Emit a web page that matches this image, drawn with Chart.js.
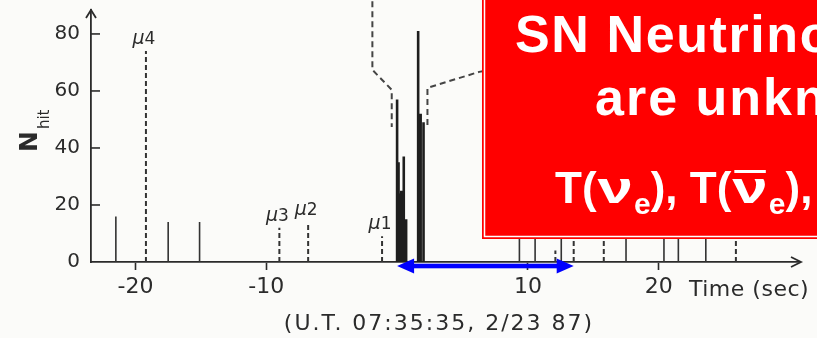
<!DOCTYPE html>
<html>
<head>
<meta charset="utf-8">
<script src="https://cdn.jsdelivr.net/npm/chart.js@4.4.1/dist/chart.umd.min.js"></script>
<style>
  html, body { margin: 0; padding: 0; background: #fbfbf9; }
  #wrap { width: 817px; height: 338px; }
</style>
</head>
<body>
<div id="wrap"><canvas id="myChart" width="817" height="338"></canvas></div>
<script>
// Kamiokande-II hits, time in seconds relative to 07:35:35 UT
const solidTimes = [-21.5, -17.5, -15.1, 9.35, 10.55, 12.55, 17.5, 20.4, 21.5, 23.6];
const solidHits = [16, 14, 14, 21, 37, 24, 15, 17, 16, 18];
const burstTimes = [0.0, 0.11, 0.30, 0.32, 0.51, 0.69, 1.61, 1.80, 2.02];
const burstHits = [57, 35, 24, 25, 37, 15, 81, 52, 49];
const muonTimes = [-19.2, -9.0, -6.8, -1.15, 12.1, 13.5, 15.8, 25.9];
const muonHits = [74, 12, 14, 9, 4, 20, 15, 15];
const muonLabels = ['4', '3', '2', '1', '', '', '', ''];
const xTicks = [-20, -10, 10, 20];
const yTicks = [0, 20, 40, 60, 80];
// dashed outline opening around the burst (time, hits)
const bracketLeftT = [-1.89, -1.89, -0.41, -0.41];
const bracketLeftH = [95, 67.4, 60.4, 47.4];
const bracketRightT = [2.32, 2.32, 6.28, 12];
const bracketRightH = [48.1, 61.1, 66.7, 72];
// blue double arrow along the time axis
const arrowSpan = [0, 13.5];

const INK = '#2b2b2b';

function stems(times, hits) {
  const pts = [];
  times.forEach((t, i) => {
    pts.push({ x: t, y: 0 }, { x: t, y: hits[i] }, { x: t, y: null });
  });
  return pts;
}

function path(ts, hs) {
  return ts.map((t, i) => ({ x: t, y: hs[i] }));
}

const overlay = {
  id: 'overlay',
  afterDraw(chart) {
    const { ctx, chartArea: a, scales: { x, y } } = chart;
    ctx.save();
    ctx.strokeStyle = INK;
    ctx.fillStyle = INK;

    // y ticks point into the plot
    ctx.lineWidth = 1.6;
    yTicks.forEach(v => {
      if (v === 0) return;
      const py = y.getPixelForValue(v);
      ctx.beginPath();
      ctx.moveTo(a.left, py);
      ctx.lineTo(a.left + 9, py);
      ctx.stroke();
    });

    // arrow heads on both axes
    ctx.lineWidth = 1.8;
    ctx.beginPath();
    ctx.moveTo(a.left - 5, a.top + 8);
    ctx.lineTo(a.left, a.top);
    ctx.lineTo(a.left + 5, a.top + 8);
    ctx.moveTo(a.right - 9, a.bottom - 5);
    ctx.lineTo(a.right + 1, a.bottom);
    ctx.lineTo(a.right - 9, a.bottom + 5);
    ctx.stroke();

    // N_hit, rotated
    ctx.save();
    ctx.translate(37, 152);
    ctx.rotate(-Math.PI / 2);
    ctx.textBaseline = 'alphabetic';
    ctx.font = 'bold 25px "DejaVu Sans"';
    ctx.fillText('N', 0, 0);
    const nw = ctx.measureText('N').width;
    ctx.font = '15px "DejaVu Sans"';
    ctx.fillText('hit', nw + 2, 12);
    ctx.restore();

    // axis captions
    ctx.font = '22px "DejaVu Sans"';
    ctx.textBaseline = 'middle';
    ctx.textAlign = 'left';
    ctx.letterSpacing = '0.5px';
    ctx.fillText('Time (sec)', 689, 290);
    ctx.textAlign = 'center';
    ctx.letterSpacing = '2px';
    ctx.fillText('(U.T. 07:35:35, 2/23 87)', 439, 324);
    ctx.letterSpacing = '0px';

    // muon labels above their dashed lines
    ctx.textBaseline = 'alphabetic';
    ctx.textAlign = 'left';
    muonTimes.forEach((t, i) => {
      if (!muonLabels[i]) return;
      const px = x.getPixelForValue(t);
      const py = y.getPixelForValue(muonHits[i]);
      ctx.font = 'italic 19px "DejaVu Sans"';
      const mw = ctx.measureText('μ').width;
      ctx.font = '17px "DejaVu Sans"';
      const dw = ctx.measureText(muonLabels[i]).width;
      const x0 = px - 2 - (mw + dw) / 2;
      ctx.font = 'italic 19px "DejaVu Sans"';
      ctx.fillText('μ', x0, py - 7);
      ctx.font = '17px "DejaVu Sans"';
      ctx.fillText(muonLabels[i], x0 + mw, py - 7);
    });

    // blue double arrow
    const ax0 = x.getPixelForValue(arrowSpan[0]);
    const ax1 = x.getPixelForValue(arrowSpan[1]);
    const ay = y.getPixelForValue(0) + 4;
    ctx.fillStyle = '#0000ff';
    ctx.fillRect(ax0 + 12, ay - 2.3, ax1 - ax0 - 24, 4.6);
    ctx.beginPath();
    ctx.moveTo(ax0, ay);
    ctx.lineTo(ax0 + 17, ay - 7.5);
    ctx.lineTo(ax0 + 17, ay + 7.5);
    ctx.closePath();
    ctx.moveTo(ax1, ay);
    ctx.lineTo(ax1 - 17, ay - 7.5);
    ctx.lineTo(ax1 - 17, ay + 7.5);
    ctx.closePath();
    ctx.fill();

    // red note box
    ctx.fillStyle = '#ff0000';
    ctx.fillRect(482, -5, 340, 244);
    ctx.strokeStyle = '#ffffff';
    ctx.lineWidth = 1.5;
    ctx.strokeRect(484.5, -5, 340, 241.5);

    ctx.fillStyle = '#ffffff';
    ctx.textAlign = 'left';
    ctx.textBaseline = 'alphabetic';
    ctx.font = 'bold 52px "Liberation Sans"';
    ctx.letterSpacing = '1.6px';
    ctx.fillText('SN Neutrino Temperatures', 515, 52);
    ctx.letterSpacing = '2px';
    ctx.fillText('are unknown', 595, 115);
    ctx.letterSpacing = '0px';

    const big = 'bold 44px "Liberation Sans"';
    const sub = 'bold 30px "Liberation Sans"';
    const run = (text, font, cx, yb) => {
      ctx.font = font;
      ctx.fillText(text, cx, yb);
      return cx + ctx.measureText(text).width;
    };
    // the nu is drawn a little wider, in the math style
    const nu = (cx, yb) => {
      ctx.font = 'bold 44px "Liberation Sans"';
      const w = ctx.measureText('ν').width;
      ctx.save();
      ctx.translate(cx + 1, yb);
      ctx.scale(1.45, 1);
      ctx.fillText('ν', 0, 0);
      ctx.restore();
      return cx + 2 + w * 1.45;
    };
    let cx = 555;
    cx = run('T(', big, cx, 203);
    cx = nu(cx, 203);
    cx = run('e', sub, cx, 214);
    cx = run('), T(', big, cx, 203);
    const bar0 = cx;
    cx = nu(cx, 203);
    ctx.fillRect(bar0 + 3, 170, cx - bar0 - 6, 3);
    cx = run('e', sub, cx, 214);
    cx = run('), T(', big, cx, 203);
    cx = nu(cx, 203);
    cx = run('x', sub, cx, 214);
    run(')', big, cx, 203);

    ctx.restore();
  }
};

new Chart(document.getElementById('myChart'), {
  type: 'scatter',
  data: {
    datasets: [
      {
        data: stems(solidTimes, solidHits),
        showLine: true, borderColor: '#333', borderWidth: 1.6,
        pointRadius: 0, clip: false
      },
      {
        data: stems(burstTimes, burstHits),
        showLine: true, borderColor: '#1e1e1e', borderWidth: 2.6,
        pointRadius: 0, clip: false
      },
      {
        data: stems(muonTimes, muonHits),
        showLine: true, borderColor: '#333', borderWidth: 2,
        borderDash: [5, 3], pointRadius: 0, clip: false
      },
      {
        data: path(bracketLeftT, bracketLeftH),
        showLine: true, borderColor: '#444', borderWidth: 2,
        borderDash: [6, 4], pointRadius: 0, clip: false
      },
      {
        data: path(bracketRightT, bracketRightH),
        showLine: true, borderColor: '#444', borderWidth: 2,
        borderDash: [6, 4], pointRadius: 0, clip: false
      }
    ]
  },
  options: {
    responsive: false,
    animation: false,
    devicePixelRatio: 1,
    layout: { padding: { top: 10, right: 17, left: 0, bottom: 0 } },
    plugins: { legend: { display: false }, tooltip: { enabled: false } },
    scales: {
      x: {
        type: 'linear', min: -23.4, max: 30.8,
        afterBuildTicks: s => { s.ticks = xTicks.map(v => ({ value: v })); },
        afterFit: s => { s.height = 76; s.paddingLeft = 0; s.paddingRight = 0; },
        grid: {
          display: true, drawOnChartArea: false, drawTicks: true,
          tickLength: 8, tickWidth: 1.6, tickColor: INK
        },
        border: { display: true, color: INK, width: 1.8 },
        ticks: { color: INK, font: { family: 'DejaVu Sans', size: 22 }, padding: 4, maxRotation: 0 }
      },
      y: {
        min: 0, max: 88.4,
        afterBuildTicks: s => { s.ticks = yTicks.map(v => ({ value: v })); },
        afterFit: s => { s.width = 91; s.paddingTop = 0; s.paddingBottom = 0; },
        grid: { display: false, drawTicks: false },
        border: { display: true, color: INK, width: 1.8 },
        ticks: { color: INK, font: { family: 'DejaVu Sans', size: 20 }, padding: 11 }
      }
    }
  },
  plugins: [overlay]
});
</script>
</body>
</html>
